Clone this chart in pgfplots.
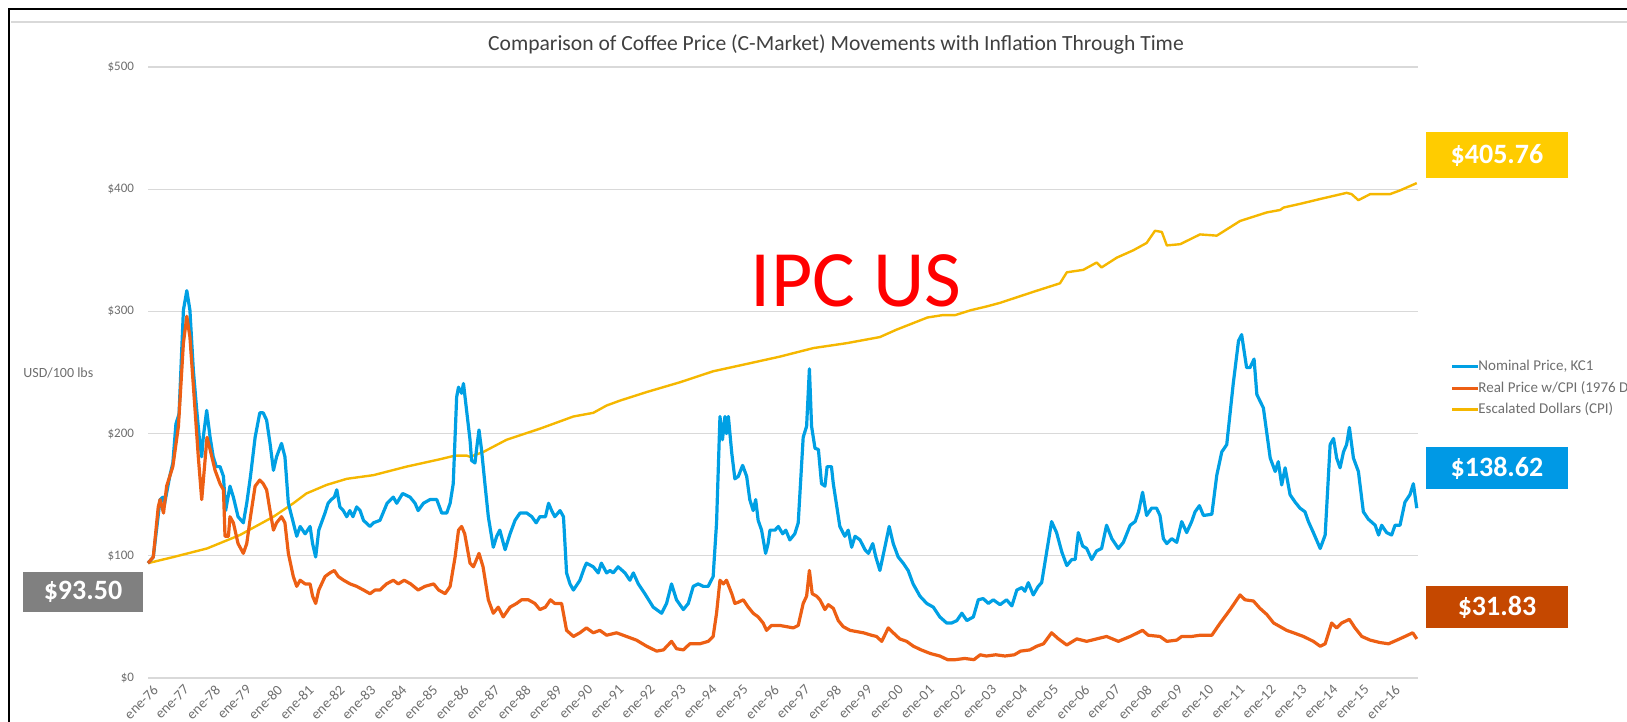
\documentclass[border=0pt]{standalone}
\usepackage{fontspec}
\setmainfont{Carlito}
\usepackage{pgfplots}
\pgfplotsset{compat=1.18}
\definecolor{blueline}{RGB}{0,160,228}
\definecolor{orangeline}{RGB}{237,95,20}
\definecolor{yellowline}{RGB}{245,183,0}
\definecolor{yellowbox}{RGB}{255,204,0}
\definecolor{bluebox}{RGB}{0,153,229}
\definecolor{brownbox}{RGB}{197,72,0}
\definecolor{graybox}{RGB}{128,128,128}
\definecolor{gridgray}{RGB}{217,217,217}
\definecolor{ticktext}{RGB}{110,110,110}
\begin{document}
\begin{tikzpicture}
\begin{axis}[
  at={(74pt,-339pt)}, anchor=south west,
  scale only axis, width=635pt, height=305.5pt,
  xmin=1976, xmax=2016.9, ymin=0, ymax=500,
  axis line style={draw=none},
  major tick length=0pt,
  ymajorgrids, grid style={gridgray, line width=0.6pt},
  ytick={0,100,200,300,400,500},
  yticklabels={\$0,\$100,\$200,\$300,\$400,\$500},
  yticklabel style={font=\fontsize{6.5}{7}\selectfont, text=ticktext, xshift=-3.5pt},
  xtick={1976,...,2016},
  xticklabels={ene-76,ene-77,ene-78,ene-79,ene-80,ene-81,ene-82,ene-83,ene-84,ene-85,ene-86,ene-87,ene-88,ene-89,ene-90,ene-91,ene-92,ene-93,ene-94,ene-95,ene-96,ene-97,ene-98,ene-99,ene-00,ene-01,ene-02,ene-03,ene-04,ene-05,ene-06,ene-07,ene-08,ene-09,ene-10,ene-11,ene-12,ene-13,ene-14,ene-15,ene-16},
  xticklabel style={font=\fontsize{7.2}{7.2}\selectfont, text=ticktext, rotate=45, anchor=north east, inner sep=0.5pt, yshift=-3pt},
  clip=false,
  line join=round,
]
\addplot[gridgray, line width=0.8pt, forget plot] coordinates {(1976,0) (2016.9,0)};
\addplot[yellowline, line width=1.2pt] coordinates {
(1976.00,94) (1976.82,99) (1977.90,106) (1978.96,117) (1980.04,132) (1980.68,143) (1981.10,151) (1981.75,158) (1982.40,163) (1983.26,166) (1984.33,173) (1985.40,179) (1985.89,182) (1986.26,182) (1986.37,181) (1986.80,185) (1987.55,195) (1988.62,204) (1989.70,214) (1990.34,217) (1990.77,223) (1991.20,227) (1992.06,234) (1993.13,242) (1994.20,251) (1995.28,257) (1996.35,263) (1997.43,270) (1998.50,274) (1999.57,279) (2000.10,285) (2000.60,290) (2001.10,295) (2001.60,297) (2002.00,297) (2002.50,301) (2003.00,304) (2003.44,307) (2004.51,316) (2005.37,323) (2005.59,332) (2006.12,334) (2006.55,340) (2006.71,336) (2007.20,344) (2007.73,350) (2008.16,356) (2008.43,366) (2008.65,365) (2008.81,354) (2009.24,355) (2009.88,363) (2010.42,362) (2011.17,374) (2012.03,381) (2012.46,383) (2012.57,385) (2013.10,388) (2013.75,392) (2014.60,397) (2014.76,396) (2014.98,391) (2015.36,396) (2016.00,396) (2016.32,399) (2016.86,405)
};
\addplot[blueline, line width=1.6pt] coordinates {
(1976.00,94) (1976.17,99) (1976.39,146) (1976.48,148) (1976.53,142) (1976.70,165) (1976.80,176) (1976.90,208) (1977.00,216) (1977.14,301) (1977.25,317) (1977.35,301) (1977.46,252) (1977.57,219) (1977.67,192) (1977.73,181) (1977.78,197) (1977.89,219) (1978.00,197) (1978.10,181) (1978.20,173) (1978.32,173) (1978.43,165) (1978.50,137) (1978.64,157) (1978.75,148) (1978.90,132) (1979.07,127) (1979.18,143) (1979.30,165) (1979.45,197) (1979.60,217) (1979.71,217) (1979.82,211) (1979.93,192) (1980.04,170) (1980.14,181) (1980.30,192) (1980.41,181) (1980.52,143) (1980.68,127) (1980.79,116) (1980.90,124) (1981.06,118) (1981.22,124) (1981.30,110) (1981.40,99) (1981.50,121) (1981.70,135) (1981.80,143) (1981.90,146) (1982.00,148) (1982.08,154) (1982.18,140) (1982.29,137) (1982.40,132) (1982.50,137) (1982.60,132) (1982.72,140) (1982.83,137) (1982.94,129) (1983.15,124) (1983.26,127) (1983.47,129) (1983.70,143) (1983.90,148) (1984.01,143) (1984.20,151) (1984.44,148) (1984.60,143) (1984.70,137) (1984.87,143) (1985.08,146) (1985.30,146) (1985.46,135) (1985.62,135) (1985.73,143) (1985.83,159) (1985.94,230) (1986.00,238) (1986.10,233) (1986.16,241) (1986.26,219) (1986.37,195) (1986.42,178) (1986.53,176) (1986.58,187) (1986.66,203) (1986.74,187) (1986.85,159) (1986.96,132) (1987.12,107) (1987.23,116) (1987.33,121) (1987.50,105) (1987.66,118) (1987.82,129) (1987.98,135) (1988.20,135) (1988.36,132) (1988.50,127) (1988.62,132) (1988.80,132) (1988.90,143) (1989.00,137) (1989.10,132) (1989.27,137) (1989.38,132) (1989.48,86) (1989.59,77) (1989.70,72) (1989.91,80) (1990.05,90) (1990.12,94) (1990.34,91) (1990.50,86) (1990.60,94) (1990.77,86) (1990.88,88) (1990.98,86) (1991.14,91) (1991.36,86) (1991.52,80) (1991.63,86) (1991.79,77) (1992.00,69) (1992.27,58) (1992.54,53) (1992.70,61) (1992.86,77) (1993.02,64) (1993.24,56) (1993.40,61) (1993.56,75) (1993.72,77) (1993.88,75) (1994.04,75) (1994.20,83) (1994.31,127) (1994.42,214) (1994.50,195) (1994.58,214) (1994.63,200) (1994.69,214) (1994.80,184) (1994.90,163) (1995.01,165) (1995.15,174) (1995.28,165) (1995.38,146) (1995.49,137) (1995.57,146) (1995.65,129) (1995.76,121) (1995.89,102) (1995.97,110) (1996.03,121) (1996.19,121) (1996.30,124) (1996.44,118) (1996.54,121) (1996.67,113) (1996.83,118) (1996.94,127) (1997.10,197) (1997.21,206) (1997.30,253) (1997.37,206) (1997.48,188) (1997.59,187) (1997.69,159) (1997.80,157) (1997.87,173) (1998.01,173) (1998.07,159) (1998.28,124) (1998.44,116) (1998.55,121) (1998.66,107) (1998.77,116) (1998.93,113) (1999.09,105) (1999.20,102) (1999.34,110) (1999.44,99) (1999.57,88) (1999.73,107) (1999.87,124) (2000.00,110) (2000.16,99) (2000.32,94) (2000.48,88) (2000.64,77) (2000.86,67) (2001.08,61) (2001.29,58) (2001.50,50) (2001.72,45) (2001.88,45) (2002.05,47) (2002.21,53) (2002.37,47) (2002.58,50) (2002.74,64) (2002.90,65) (2003.06,61) (2003.22,64) (2003.44,60) (2003.65,64) (2003.82,59) (2003.98,72) (2004.14,74) (2004.24,71) (2004.35,78) (2004.51,68) (2004.67,75) (2004.78,78) (2004.94,103) (2005.10,128) (2005.26,119) (2005.43,103) (2005.59,92) (2005.75,97) (2005.86,97) (2005.96,119) (2006.10,108) (2006.23,106) (2006.39,97) (2006.55,104) (2006.71,106) (2006.87,125) (2007.04,114) (2007.25,106) (2007.41,111) (2007.63,125) (2007.79,128) (2007.90,136) (2008.03,152) (2008.16,133) (2008.32,139) (2008.48,139) (2008.59,133) (2008.70,114) (2008.81,110) (2008.97,114) (2009.13,111) (2009.29,128) (2009.45,119) (2009.61,128) (2009.72,136) (2009.86,141) (2009.99,133) (2010.26,134) (2010.42,166) (2010.58,185) (2010.74,191) (2010.95,241) (2011.12,276) (2011.22,281) (2011.38,254) (2011.49,254) (2011.62,261) (2011.71,232) (2011.92,221) (2012.14,180) (2012.30,169) (2012.40,177) (2012.51,158) (2012.62,172) (2012.78,150) (2012.94,144) (2013.10,139) (2013.26,136) (2013.37,128) (2013.53,119) (2013.75,106) (2013.91,117) (2014.07,191) (2014.18,196) (2014.28,180) (2014.39,172) (2014.50,185) (2014.60,191) (2014.69,205) (2014.82,180) (2014.98,169) (2015.14,136) (2015.30,130) (2015.52,125) (2015.63,117) (2015.73,125) (2015.89,119) (2016.05,117) (2016.16,125) (2016.32,125) (2016.48,144) (2016.64,150) (2016.75,159) (2016.86,139)
};
\addplot[orangeline, line width=1.6pt] coordinates {
(1976.00,94) (1976.17,99) (1976.33,140) (1976.39,146) (1976.50,135) (1976.60,157) (1976.80,173) (1976.98,206) (1977.14,274) (1977.25,296) (1977.35,279) (1977.50,225) (1977.62,181) (1977.73,146) (1977.81,170) (1977.90,197) (1978.00,187) (1978.16,170) (1978.32,159) (1978.43,154) (1978.48,116) (1978.59,116) (1978.64,132) (1978.75,127) (1978.90,110) (1979.07,102) (1979.18,110) (1979.30,132) (1979.45,157) (1979.60,162) (1979.71,159) (1979.82,154) (1979.93,137) (1980.04,121) (1980.14,127) (1980.30,132) (1980.41,127) (1980.52,102) (1980.68,83) (1980.79,75) (1980.90,80) (1981.06,77) (1981.22,77) (1981.30,67) (1981.40,61) (1981.50,72) (1981.70,83) (1981.86,86) (1982.00,88) (1982.13,83) (1982.30,80) (1982.51,77) (1982.72,75) (1982.94,72) (1983.15,69) (1983.31,72) (1983.47,72) (1983.68,77) (1983.90,80) (1984.06,77) (1984.25,80) (1984.46,77) (1984.70,72) (1984.92,75) (1985.20,77) (1985.36,72) (1985.57,69) (1985.73,75) (1985.89,99) (1986.00,121) (1986.10,124) (1986.20,118) (1986.37,94) (1986.48,91) (1986.58,97) (1986.66,102) (1986.79,91) (1986.96,64) (1987.12,53) (1987.28,58) (1987.44,50) (1987.66,58) (1987.87,61) (1988.03,64) (1988.25,64) (1988.46,61) (1988.62,56) (1988.80,58) (1988.96,64) (1989.10,61) (1989.32,61) (1989.48,39) (1989.70,34) (1989.91,37) (1990.12,41) (1990.34,37) (1990.55,39) (1990.77,35) (1991.09,37) (1991.41,34) (1991.73,31) (1992.06,26) (1992.38,22) (1992.60,23) (1992.86,30) (1993.02,24) (1993.24,23) (1993.45,28) (1993.77,28) (1994.04,30) (1994.20,34) (1994.31,53) (1994.42,80) (1994.53,77) (1994.63,80) (1994.80,69) (1994.90,61) (1995.01,62) (1995.17,64) (1995.33,58) (1995.49,53) (1995.65,50) (1995.81,45) (1995.92,39) (1996.08,43) (1996.35,43) (1996.57,42) (1996.78,41) (1996.94,43) (1997.10,61) (1997.21,67) (1997.30,88) (1997.39,69) (1997.53,67) (1997.64,64) (1997.80,56) (1997.91,60) (1998.07,57) (1998.23,47) (1998.39,42) (1998.61,39) (1998.82,38) (1999.04,37) (1999.30,35) (1999.46,34) (1999.63,30) (1999.84,41) (2000.00,37) (2000.21,32) (2000.43,30) (2000.65,26) (2000.90,23) (2001.20,20) (2001.50,18) (2001.75,15) (2002.00,15) (2002.30,16) (2002.60,15) (2002.80,19) (2003.00,18) (2003.30,19) (2003.60,18) (2003.90,19) (2004.10,22) (2004.40,23) (2004.62,26) (2004.84,28) (2005.10,37) (2005.32,32) (2005.59,27) (2005.91,32) (2006.23,30) (2006.55,32) (2006.87,34) (2007.25,30) (2007.63,34) (2008.03,39) (2008.21,35) (2008.59,34) (2008.81,30) (2009.13,31) (2009.29,34) (2009.61,34) (2009.88,35) (2010.26,35) (2010.53,45) (2010.85,56) (2011.17,68) (2011.33,64) (2011.60,63) (2011.81,57) (2012.03,52) (2012.25,45) (2012.46,42) (2012.67,39) (2012.89,37) (2013.21,34) (2013.53,30) (2013.75,26) (2013.91,28) (2014.12,45) (2014.28,41) (2014.44,45) (2014.69,48) (2014.87,41) (2015.09,34) (2015.36,31) (2015.68,29) (2015.95,28) (2016.22,31) (2016.48,34) (2016.73,37) (2016.86,32)
};
\end{axis}
\begin{scope}[x=0.5pt,y=-0.5pt]
% frame
\draw[black, line width=1.1pt] (9,740) -- (9,9) -- (1640,9);
\draw[gridgray, line width=0.6pt] (11,22) -- (1640,22);
% title
\node[font=\fontsize{10.8}{12}\selectfont, text=black!75] at (836,44) {Comparison of Coffee Price (C-Market) Movements with Inflation Through Time};
% y axis title
\node[anchor=west, font=\fontsize{7}{8}\selectfont, text=ticktext, inner sep=0pt] at (23,373) {USD/100 lbs};
% big label
\node[font=\fontsize{40}{41}\selectfont, text=red, inner sep=0pt] at (856,281) {IPC US};
% value boxes
\node[fill=yellowbox, text=white, minimum width=71pt, minimum height=23pt, inner sep=0pt, font=\bfseries\fontsize{14}{14}\selectfont] at (1497,155) {\$405.76};
\node[fill=bluebox, text=white, minimum width=71pt, minimum height=21pt, inner sep=0pt, font=\bfseries\fontsize{14}{14}\selectfont] at (1497,468) {\$138.62};
\node[fill=brownbox, text=white, minimum width=71pt, minimum height=21pt, inner sep=0pt, font=\bfseries\fontsize{14}{14}\selectfont] at (1497,607) {\$31.83};
\node[fill=graybox, text=white, minimum width=60pt, minimum height=20pt, inner sep=0pt, font=\bfseries\fontsize{14}{14}\selectfont] at (83,592) {\$93.50};
% legend
\draw[blueline, line width=1.5pt] (1452,366) -- (1478,366);
\node[anchor=west, font=\fontsize{7.5}{8}\selectfont, text=ticktext, inner sep=0pt] at (1478,366) {Nominal Price, KC1};
\draw[orangeline, line width=1.5pt] (1452,388) -- (1478,388);
\node[anchor=west, font=\fontsize{7.5}{8}\selectfont, text=ticktext, inner sep=0pt] at (1478,388) {Real Price w/CPI (1976 Dollars)};
\draw[yellowline, line width=1.5pt] (1452,409) -- (1478,409);
\node[anchor=west, font=\fontsize{7.5}{8}\selectfont, text=ticktext, inner sep=0pt] at (1478,409) {Escalated Dollars (CPI)};
\end{scope}
\pgfresetboundingbox
\path[use as bounding box] (0pt,0pt) rectangle (813.5pt,-361pt);
\end{tikzpicture}
\end{document}
